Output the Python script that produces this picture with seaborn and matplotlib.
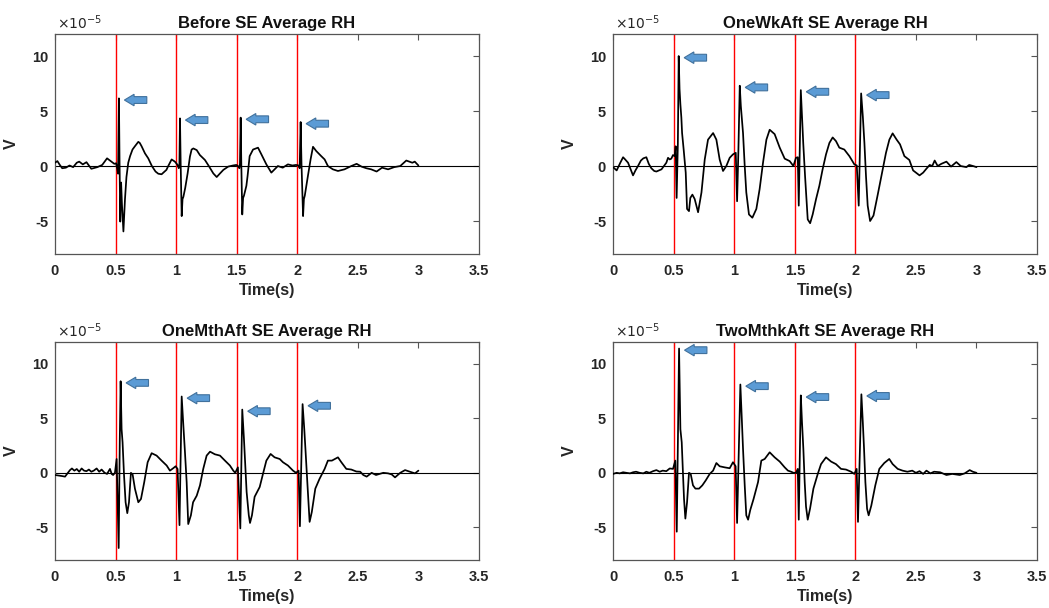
import numpy as np
import pandas as pd
import matplotlib
matplotlib.use("Agg")
import matplotlib.pyplot as plt
from matplotlib.patches import FancyArrow
import seaborn as sns

# ---------------- data (values in units of 1e-5 V) ----------------
titles = ["Before SE Average RH", "OneWkAft SE Average RH",
          "OneMthAft SE Average RH", "TwoMthkAft SE Average RH"]
stim_onsets = [0.5, 1.0, 1.5, 2.0]
x_tick_values = [0, 0.5, 1, 1.5, 2, 2.5, 3, 3.5]
x_tick_labels = ["0", "0.5", "1", "1.5", "2", "2.5", "3", "3.5"]
y_tick_values = [-5, 0, 5, 10]
y_tick_labels = ["-5", "0", "5", "10"]

t_before = [0.0, 0.02, 0.04, 0.06, 0.09, 0.12, 0.15, 0.18, 0.2, 0.23, 0.26, 0.3, 0.35, 0.39, 0.43, 0.46, 0.49,
            0.505, 0.515, 0.521, 0.528, 0.533, 0.539, 0.546, 0.553, 0.565, 0.578, 0.59, 0.605, 0.62, 0.64, 0.66,
            0.688, 0.7, 0.715, 0.743, 0.77, 0.8, 0.83, 0.853, 0.88, 0.92, 0.935, 0.963, 0.99, 1.012, 1.022, 1.027,
            1.032, 1.038, 1.046, 1.053, 1.06, 1.075, 1.095, 1.114, 1.128, 1.142, 1.17, 1.196, 1.238, 1.27, 1.307,
            1.335, 1.36, 1.39, 1.43, 1.47, 1.497, 1.51, 1.522, 1.527, 1.533, 1.538, 1.546, 1.553, 1.56, 1.58, 1.59,
            1.607, 1.635, 1.676, 1.704, 1.745, 1.786, 1.813, 1.84, 1.88, 1.923, 1.96, 1.99, 2.01, 2.02, 2.028, 2.035,
            2.048, 2.055, 2.062, 2.088, 2.11, 2.13, 2.157, 2.198, 2.226, 2.253, 2.294, 2.336, 2.39, 2.446, 2.49, 2.53,
            2.57, 2.61, 2.655, 2.7, 2.75, 2.8, 2.85, 2.9, 2.95, 2.97, 3.0]
v_before = [0.3, 0.45, 0.1, -0.2, -0.15, 0.05, -0.1, 0.3, 0.4, 0.15, 0.35, -0.25, -0.1, 0.1, 0.7, 0.45, 0.2,
            0.25, -0.3, -0.7, 6.15, 0.5, -5.05, -1.5, -3.5, -5.95, -3.0, -1.0, 0.3, 0.9, 1.5, 1.8,
            2.2, 2.1, 1.8, 1.15, 0.7, 0.0, -0.5, -0.7, -0.75, -0.35, 0.0, 0.6, 0.4, 0.1, -0.2, 0.0,
            4.33, 0.0, -4.55, -3.0, -2.8, -2.0, -0.67, 0.85, 1.5, 1.6, 1.45, 1.0, 0.55, 0.0, -0.67,
            -1.0, -0.7, -0.35, -0.05, 0.05, 0.1, 0.0, -0.2, 0.2, 4.4, 0.3, -4.4, -2.9, -2.7, -1.8, -0.9,
            0.9, 1.5, 1.67, 1.06, 0.15, -0.6, -0.3, 0.0, -0.15, 0.15, 0.05, 0.1, 0.05, -0.2, 4.0, 0.2,
            -4.55, -3.0, -2.7, -0.9, 0.6, 1.75, 1.36, 0.9, 0.6, 0.0, -0.3, -0.45, -0.3, 0.0, 0.2, -0.05,
            -0.2, -0.3, -0.5, -0.15, -0.3, -0.1, 0.0, 0.5, 0.3, 0.4, 0.05]

t_onewk = [0.0, 0.03, 0.06, 0.083, 0.1, 0.124, 0.145, 0.165, 0.185, 0.206, 0.23, 0.25, 0.275, 0.295, 0.316, 0.34,
           0.358, 0.38, 0.4, 0.42, 0.44, 0.454, 0.468, 0.481, 0.495, 0.509, 0.517, 0.525, 0.535, 0.542, 0.549,
           0.556, 0.564, 0.57, 0.583, 0.6, 0.611, 0.627, 0.638, 0.655, 0.674, 0.702, 0.73, 0.757, 0.784, 0.826,
           0.853, 0.88, 0.908, 0.935, 0.963, 0.99, 1.013, 1.024, 1.035, 1.046, 1.055, 1.073, 1.087, 1.1, 1.122,
           1.15, 1.183, 1.21, 1.238, 1.266, 1.293, 1.334, 1.376, 1.417, 1.458, 1.489, 1.51, 1.525, 1.533, 1.55,
           1.56, 1.57, 1.585, 1.607, 1.627, 1.648, 1.676, 1.703, 1.73, 1.758, 1.786, 1.813, 1.84, 1.868, 1.909,
           1.951, 1.992, 2.012, 2.028, 2.048, 2.062, 2.075, 2.088, 2.102, 2.122, 2.15, 2.185, 2.226, 2.253, 2.281,
           2.308, 2.341, 2.369, 2.405, 2.446, 2.477, 2.53, 2.56, 2.587, 2.614, 2.635, 2.655, 2.68, 2.71, 2.752,
           2.79, 2.834, 2.87, 2.917, 2.94, 2.972, 3.0]
v_onewk = [-0.1, -0.4, 0.3, 0.8, 0.6, 0.3, -0.3, -0.85, -0.4, 0.0, 0.5, 0.7, 0.8, 0.2, -0.2, -0.45,
           -0.5, -0.4, -0.3, 0.0, 0.3, 0.75, 0.6, 0.67, 1.0, 0.9, 1.8, -2.9, 2.0, 10.0, 7.0,
           5.6, 4.4, 3.0, 1.5, -0.6, -3.9, -4.1, -2.9, -2.6, -3.0, -4.2, -2.4, 0.6, 2.4, 3.0,
           2.4, 0.6, -0.45, 0.0, 0.75, 1.06, 1.2, -3.2, 1.5, 7.3, 5.45, 3.0, 0.0, -2.4, -4.4,
           -4.7, -3.9, -2.1, 0.3, 2.4, 3.3, 2.9, 1.67, 0.67, 0.45, 0.0, 0.75, 0.8, -3.6, 6.9,
           4.5, 2.1, -0.9, -4.85, -5.2, -4.4, -3.0, -1.8, -0.3, 1.06, 2.1, 2.6, 2.27, 1.67, 1.5,
           0.9, 0.15, 0.05, -3.6, 6.6, 4.5, 2.1, -0.9, -3.6, -5.0, -4.5, -2.6, -0.3, 1.2, 2.4,
           2.97, 2.4, 1.97, 0.9, 0.55, -0.4, -0.85, -0.6, -0.24, 0.1, 0.0, 0.5, 0.0, 0.2, 0.4,
           -0.05, 0.36, 0.0, -0.1, 0.1, 0.0, -0.1]

t_onemth = [0.0, 0.03, 0.06, 0.083, 0.1, 0.124, 0.14, 0.16, 0.18, 0.2, 0.22, 0.24, 0.26, 0.28, 0.3, 0.32, 0.344,
            0.365, 0.385, 0.41, 0.43, 0.454, 0.468, 0.48, 0.495, 0.509, 0.526, 0.535, 0.542, 0.55, 0.558, 0.57,
            0.583, 0.597, 0.611, 0.627, 0.641, 0.66, 0.688, 0.71, 0.737, 0.765, 0.798, 0.839, 0.88, 0.922, 0.949,
            0.976, 0.996, 1.012, 1.028, 1.046, 1.06, 1.073, 1.087, 1.1, 1.122, 1.14, 1.17, 1.197, 1.224, 1.252,
            1.28, 1.32, 1.362, 1.403, 1.444, 1.472, 1.488, 1.51, 1.53, 1.546, 1.56, 1.571, 1.582, 1.6, 1.61, 1.626,
            1.648, 1.69, 1.717, 1.745, 1.78, 1.813, 1.855, 1.882, 1.923, 1.965, 1.99, 2.011, 2.022, 2.044, 2.058,
            2.069, 2.083, 2.102, 2.12, 2.149, 2.184, 2.226, 2.253, 2.286, 2.336, 2.364, 2.405, 2.446, 2.488, 2.52,
            2.545, 2.573, 2.614, 2.65, 2.71, 2.75, 2.78, 2.807, 2.85, 2.89, 2.93, 2.972, 3.0]
v_onemth = [-0.2, -0.25, -0.3, -0.35, -0.1, 0.25, 0.4, 0.2, 0.35, 0.1, 0.4, 0.2, 0.15, 0.3, 0.1, 0.2, 0.4,
            0.1, 0.3, 0.0, -0.1, 0.36, -0.1, -0.2, 0.0, 1.27, -6.9, 3.0, 8.4, 4.0, 2.8, -0.2,
            -2.7, -3.7, -2.7, 0.0, -0.15, -1.45, -2.7, -2.4, -0.85, 0.97, 1.8, 1.58, 1.12, 0.67, 0.2,
            0.42, 0.6, 0.35, -4.8, 7.0, 4.3, 1.9, -0.85, -4.7, -3.9, -2.7, -2.1, -1.15, 0.36, 1.58,
            1.94, 1.7, 1.58, 1.12, 0.67, 0.2, 0.0, 0.5, -5.1, 5.8, 3.1, 0.67, -1.75, -3.9, -4.6, -3.9,
            -2.2, -1.3, -0.1, 1.12, 1.73, 1.42, 1.27, 0.97, 0.67, 0.2, 0.0, 0.2, -4.9, 6.3, 4.0,
            1.9, -0.85, -4.5, -3.6, -1.45, -0.55, 0.36, 1.12, 1.12, 1.42, 0.97, 0.36, 0.3, 0.12, 0.1,
            -0.2, -0.35, 0.0, -0.2, 0.0, -0.05, -0.15, -0.42, 0.0, 0.25, 0.1, -0.05, 0.2]

t_twomth = [0.0, 0.03, 0.055, 0.083, 0.11, 0.14, 0.165, 0.19, 0.22, 0.25, 0.275, 0.3, 0.33, 0.358, 0.385, 0.41,
            0.44, 0.468, 0.495, 0.514, 0.526, 0.545, 0.556, 0.567, 0.578, 0.586, 0.597, 0.611, 0.627, 0.641, 0.66,
            0.68, 0.71, 0.737, 0.765, 0.798, 0.826, 0.853, 0.88, 0.922, 0.963, 0.99, 1.012, 1.024, 1.051, 1.062,
            1.073, 1.087, 1.1, 1.115, 1.133, 1.16, 1.197, 1.224, 1.252, 1.293, 1.334, 1.376, 1.417, 1.444, 1.47,
            1.49, 1.51, 1.525, 1.533, 1.55, 1.56, 1.571, 1.582, 1.593, 1.607, 1.626, 1.654, 1.69, 1.717, 1.758,
            1.8, 1.84, 1.882, 1.923, 1.965, 1.992, 2.011, 2.022, 2.05, 2.062, 2.072, 2.083, 2.097, 2.11, 2.132,
            2.165, 2.198, 2.239, 2.28, 2.308, 2.35, 2.39, 2.43, 2.47, 2.5, 2.53, 2.56, 2.587, 2.62, 2.65, 2.7,
            2.752, 2.8, 2.862, 2.903, 2.944, 2.97, 3.0]
v_twomth = [-0.1, 0.0, -0.05, 0.05, 0.0, -0.05, 0.05, 0.1, 0.0, -0.05, 0.1, 0.0, 0.15, 0.25, 0.1, 0.2,
            0.15, 0.4, 0.36, 1.12, -5.4, 11.4, 4.0, 2.8, -0.25, -2.4, -4.2, -2.7, 0.0, -0.1, -1.15,
            -1.45, -1.45, -1.15, -0.7, -0.1, 0.2, 0.9, 0.6, 0.5, 0.42, 0.97, 0.6, -4.6, 8.1, 5.2,
            2.2, -1.15, -3.9, -4.3, -3.4, -2.4, -0.85, 1.12, 1.27, 1.88, 1.42, 1.03, 0.5, 0.2, 0.1,
            0.0, 0.0, 0.36, -4.3, 7.1, 4.6, 2.2, -0.85, -3.1, -4.3, -3.3, -1.45, -0.1, 0.8, 1.42,
            1.03, 0.8, 0.36, 0.3, 0.1, -0.1, 0.36, -4.5, 7.2, 4.6, 2.2, -0.85, -3.3, -3.9, -3.0,
            -1.15, 0.36, 0.9, 1.27, 0.8, 0.36, 0.2, 0.1, 0.2, 0.0, 0.15, -0.1, 0.2, -0.05, 0.1, 0.05,
            -0.2, -0.1, -0.2, -0.05, 0.25, 0.1, 0.0]

series = [(t_before, v_before), (t_onewk, v_onewk), (t_onemth, v_onemth), (t_twomth, v_twomth)]

# ---------------- style ----------------
sns.set_theme(style="white")
plt.rcParams["font.family"] = ["Liberation Sans", "DejaVu Sans"]
plt.rcParams["axes.edgecolor"] = "#555555"
plt.rcParams["axes.linewidth"] = 0.9
plt.rcParams["axes.unicode_minus"] = False

fig = plt.figure(figsize=(10.49, 6.08), dpi=100)
positions = [[0.0524, 0.5822, 0.4042, 0.3618], [0.5844, 0.5822, 0.4042, 0.3618],
             [0.0524, 0.0789, 0.4042, 0.3586], [0.5844, 0.0789, 0.4042, 0.3586]]

ARROW_FC = "#5B9BD5"
ARROW_EC = "#41719C"
SCALE = 1e-5

for pos, title, (tt, vv) in zip(positions, titles, series):
    ax = fig.add_axes(pos)
    t = np.asarray(tt, dtype=float)
    v = np.asarray(vv, dtype=float) * SCALE
    df = pd.DataFrame({"Time(s)": t, "V": v})

    ax.axhline(0, color="black", lw=0.8, zorder=1)
    for o in stim_onsets:
        ax.axvline(o, color="#ff0000", lw=1.0, zorder=2)
    sns.lineplot(data=df, x="Time(s)", y="V", ax=ax, color="black", lw=1.25,
                 estimator=None, sort=False, zorder=3)

    # arrows pointing to each evoked peak
    for o in stim_onsets:
        m = (t >= o) & (t <= o + 0.1)
        k = np.argmax(v[m])
        tp, vp = t[m][k], v[m][k]
        tip = tp + 0.045
        length = 0.185
        ax.add_patch(FancyArrow(tip + length, vp - 0.15 * SCALE, -length, 0,
                                width=0.62 * SCALE, head_width=1.05 * SCALE, head_length=0.08,
                                length_includes_head=True, fc=ARROW_FC, ec=ARROW_EC,
                                lw=0.8, zorder=4))

    ax.set_xlim(0, 3.5)
    ax.set_ylim(-8 * SCALE, 12 * SCALE)
    ax.set_xticks(x_tick_values)
    ax.set_xticklabels(x_tick_labels)
    ax.set_yticks(np.array(y_tick_values) * SCALE)
    ax.set_yticklabels(y_tick_labels)
    ax.text(0.004, 1.008, r"$\times10^{-5}$", transform=ax.transAxes, fontsize=10,
            ha="left", va="bottom", color="#262626")

    ax.tick_params(axis="both", direction="in", top=True, right=True, length=4,
                   width=0.8, color="#555555", labelsize=10.5, labelcolor="#262626")
    ax.tick_params(axis="x", pad=7)
    ax.tick_params(axis="y", pad=5)
    for lab in ax.get_xticklabels() + ax.get_yticklabels():
        lab.set_fontweight("bold")

    ax.set_xlabel("Time(s)", fontsize=11.5, fontweight="bold", color="#262626", labelpad=4)
    ax.set_ylabel("V", fontsize=11.5, fontweight="bold", color="#262626")
    ax.yaxis.set_label_coords(-0.085, 0.5)
    ax.set_title(title, fontsize=12, fontweight="bold", color="#111111", pad=4)
    for s in ax.spines.values():
        s.set_visible(True)
        s.set_color("#555555")

fig.savefig("out.png", dpi=100)
